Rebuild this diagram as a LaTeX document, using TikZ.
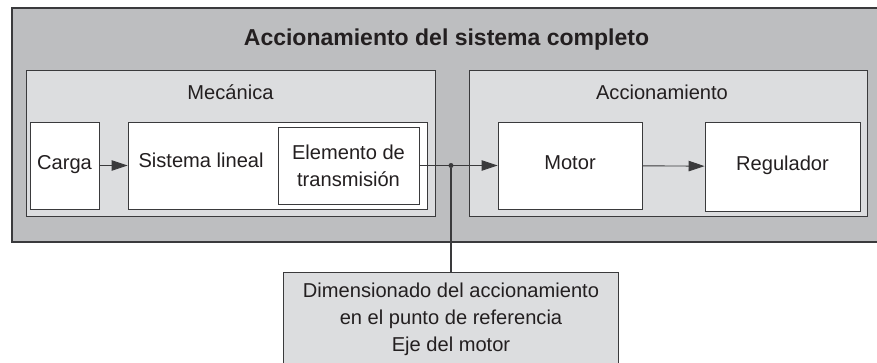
\documentclass[tikz,border=0pt]{standalone}
\usepackage{fontspec}
\setmainfont{Liberation Sans}
\usetikzlibrary{arrows.meta}
\definecolor{borde}{HTML}{3A3A3C}
\definecolor{gris}{HTML}{BDBEC0}
\definecolor{claro}{HTML}{DCDDDF}
\definecolor{letra}{HTML}{231F20}
\tikzset{
	caja/.style={draw=borde, line width=0.9pt, fill=white, inner sep=0pt, text=letra, font=\fontsize{20.1}{26.9}\selectfont, align=center},
	cajauna/.style={caja, text height=14pt, text depth=6pt},
	panel/.style={draw=borde, line width=0.9pt, fill=claro, inner sep=0pt},
	rotulo/.style={anchor=base, text=letra, font=\fontsize{20.1}{0}\selectfont},
	flecha/.style={draw=borde, line width=0.9pt, -{Triangle[length=16pt,width=10.5pt]}},
	punto/.style={circle, fill=borde, inner sep=0pt, minimum size=5pt}
}
\begin{document}
\begin{tikzpicture}[x=1pt,y=-1pt]
		\useasboundingbox (0,0) rectangle (877,362);
		\node[panel, fill=gris, line width=1.3pt, minimum width=872pt, minimum height=234pt] (total) at (448,125) {};
		\node[rotulo, font=\bfseries\fontsize{23}{0}\selectfont] (titulo) at (446.5,45) {Accionamiento del sistema completo};
		\node[panel, minimum width=409pt, minimum height=146pt] (mecanica) at (230.5,143) {};
		\node[panel, minimum width=398pt, minimum height=146pt] (accion) at (668,143) {};
		\node[rotulo] (mec) at (230.5,99) {Mecánica};
		\node[rotulo] (acc) at (662,99) {Accionamiento};
		\node[cajauna, minimum width=69pt, minimum height=87pt] (carga) at (64.5,165.5) {Carga};
		\node[caja, minimum width=299pt, minimum height=87pt] (sistema) at (277.5,165.5) {};
		\node[rotulo, anchor=base west] (lineal) at (135,167) {Sistema lineal};
		\node[caja, minimum width=141pt, minimum height=77pt] (transmision) at (348.5,165.5) {Elemento de\\transmisión};
		\node[cajauna, minimum width=144pt, minimum height=87pt] (motor) at (570,165.5) {Motor};
		\node[cajauna, minimum width=155pt, minimum height=89pt] (regulador) at (782.5,166.5) {Regulador};
		\node[punto] (union) at (451,165.5) {};
		\node[caja, fill=claro, anchor=north, minimum width=335pt, minimum height=94pt] (dimension) at (451,272) {Dimensionado del accionamiento\\en el punto de referencia\\Eje del motor};
		\draw[flecha] (carga) -- (sistema);
		\draw[flecha] (transmision) -- (motor);
		\draw[flecha] (motor) -- (regulador);
		\draw[draw=borde, line width=1.8pt] (union) -- (dimension);
\end{tikzpicture}
\end{document}
